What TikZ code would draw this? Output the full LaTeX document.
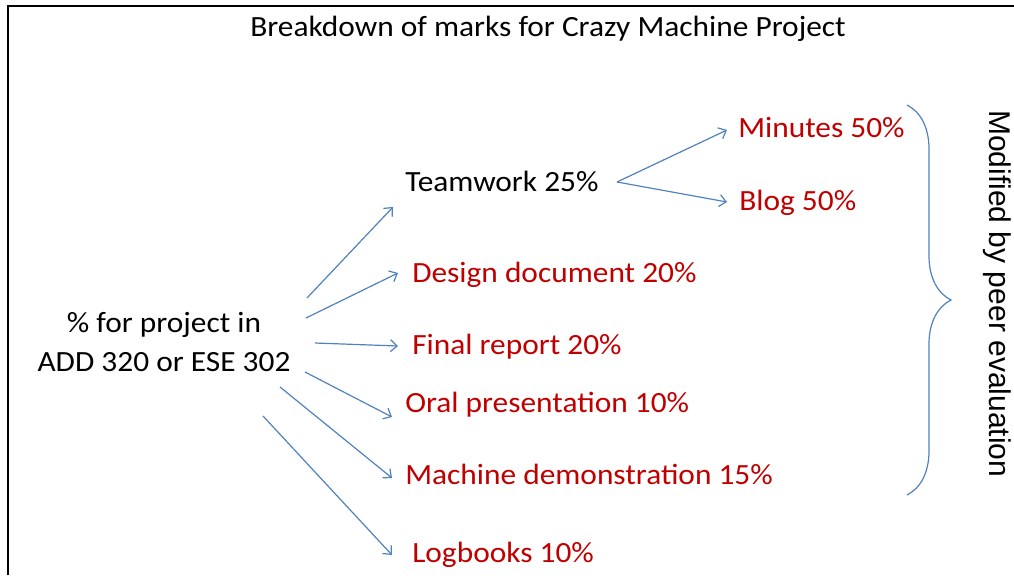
\documentclass[tikz,border=0pt]{standalone}
\usepackage{fontspec}
\setmainfont{Carlito}[FakeStretch=1.07]
\newfontfamily\sidefont{Liberation Sans}
\usetikzlibrary{arrows.meta,decorations.pathreplacing}
\definecolor{markred}{RGB}{192,0,0}
\definecolor{linkblue}{RGB}{79,129,189}

\begin{document}
\begin{tikzpicture}[x=0.75pt,y=-0.75pt,
		lbl/.style={anchor=base west,inner sep=0pt,font=\fontsize{22}{26}\selectfont},
		part/.style={lbl,text=markred},
		arr/.style={draw=linkblue,line width=0.9pt,-{Straight Barb[length=5pt,width=9pt]}}]
			\useasboundingbox (0,0) rectangle (1014,575);
			\draw [line width=1.5pt] (8,575) -- (8,6) -- (1014,6);
			\node [lbl] (title) at (250,36) {Breakdown of marks for Crazy Machine Project};
			% source and the marks
			\node [lbl,anchor=center,align=center,font=\fontsize{22}{29.25}\selectfont] (src) at (164,342) {\% for project in\\ADD 320 or ESE 302};
			\node [lbl] (team) at (405,191) {Teamwork 25\%};
			\node [part] (design) at (412,282) {Design document 20\%};
			\node [part] (final) at (412,354) {Final report 20\%};
			\node [part] (oral) at (405,412) {Oral presentation 10\%};
			\node [part] (demo) at (405,484) {Machine demonstration 15\%};
			\node [part] (logs) at (412,562) {Logbooks 10\%};
			\node [part] (mins) at (738,137) {Minutes 50\%};
			\node [part] (blog) at (739,210) {Blog 50\%};
			\node [lbl,rotate=-90,font=\sidefont\fontsize{22.5}{27}\selectfont] (peer) at (989,110) {Modified by peer evaluation};
			% arrows
			\coordinate (s1) at (307,298);
			\coordinate (s2) at (306,318);
			\coordinate (s3) at (315,343);
			\coordinate (s4) at (305,372);
			\coordinate (s5) at (280,387);
			\coordinate (s6) at (263,416);
			\draw [arr] (s1) -- ([shift={(-12,16)}]team.base west);
			\draw [arr] (s2) -- ([shift={(-14,-9)}]design.base west);
			\draw [arr] (s3) -- ([shift={(-14,-8)}]final.base west);
			\draw [arr] (s4) -- ([shift={(-13,5)}]oral.base west);
			\draw [arr] (s5) -- ([shift={(-13,-6)}]demo.base west);
			\draw [arr] (s6) -- ([shift={(-20,-7)}]logs.base west);
			\coordinate (fork) at ([shift={(212,-9)}]team.base west);
			\draw [arr] (fork) -- ([shift={(-11,-7)}]mins.base west);
			\draw [arr] (fork) -- ([shift={(-12,-8)}]blog.base west);
			% brace
			\draw [linkblue,line width=0.9pt,decorate,decoration={brace,amplitude=33pt}] (907,105) -- (907,495);
		\end{tikzpicture}
\end{document}
